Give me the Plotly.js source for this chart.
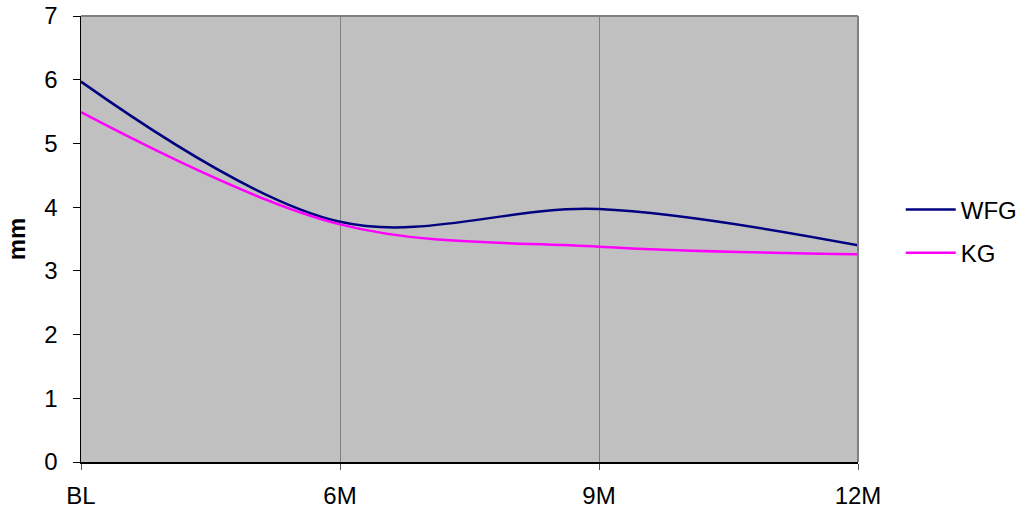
<!DOCTYPE html>
<html><head><meta charset="utf-8">
<script src="https://cdn.plot.ly/plotly-3.0.1.min.js"></script>
<style>html,body{margin:0;padding:0;background:#fff;}#c{width:1025px;height:511px;}</style>
</head><body><div id="c"></div>
<script>
const categories = ["BL", "6M", "9M", "12M"];
const wfg = [5.97, 3.77, 3.97, 3.40];
const kg = [5.49, 3.73, 3.38, 3.26];
const yTicks = [0, 1, 2, 3, 4, 5, 6, 7];

const font = {family: "Liberation Sans, Arial, sans-serif", size: 24, color: "#000"};
const traces = [
  {x: categories, y: wfg, name: "WFG", mode: "lines", type: "scatter", legendgroup: "a",
   line: {color: "#000080", width: 2.5, shape: "spline", smoothing: 1}},
  {x: categories, y: kg, name: "KG", mode: "lines", type: "scatter", legendgroup: "b",
   line: {color: "#FF00FF", width: 2.5, shape: "spline", smoothing: 1}}
];
const layout = {
  width: 1025, height: 511,
  margin: {l: 81, r: 167, t: 16, b: 49, autoexpand: false},
  paper_bgcolor: "#fff", plot_bgcolor: "#C0C0C0",
  font: font,
  showlegend: true,
  legend: {x: 1.055, y: 0.517, xanchor: "left", yanchor: "middle", font: font,
           bgcolor: "rgba(0,0,0,0)", traceorder: "grouped", tracegroupgap: 9, itemwidth: 50},
  xaxis: {type: "category", range: [0, 3], showgrid: true, gridcolor: "#808080", gridwidth: 1,
          ticks: "outside", ticklen: 6, tickcolor: "#555", ticklabelstandoff: 6,
          showline: true, linecolor: "#000", linewidth: 1.5, zeroline: false,
          tickfont: font, fixedrange: true, automargin: false},
  yaxis: {range: [0, 7], tickvals: yTicks, showgrid: false, zeroline: false,
          ticks: "outside", ticklen: 7, tickcolor: "#000", ticklabelstandoff: 10,
          showline: true, linecolor: "#000", linewidth: 1.5, tickfont: font, automargin: false,
          title: {text: "<b>mm</b>", font: font, standoff: 12}},
  shapes: [
    {type: "line", xref: "paper", yref: "paper", x0: 0, x1: 1, y0: 1, y1: 1, line: {color: "#808080", width: 2}},
    {type: "line", xref: "paper", yref: "paper", x0: 1, x1: 1, y0: 0, y1: 1, line: {color: "#808080", width: 2}}
  ]
};
Plotly.newPlot("c", traces, layout, {displayModeBar: false, staticPlot: true});
</script></body></html>
